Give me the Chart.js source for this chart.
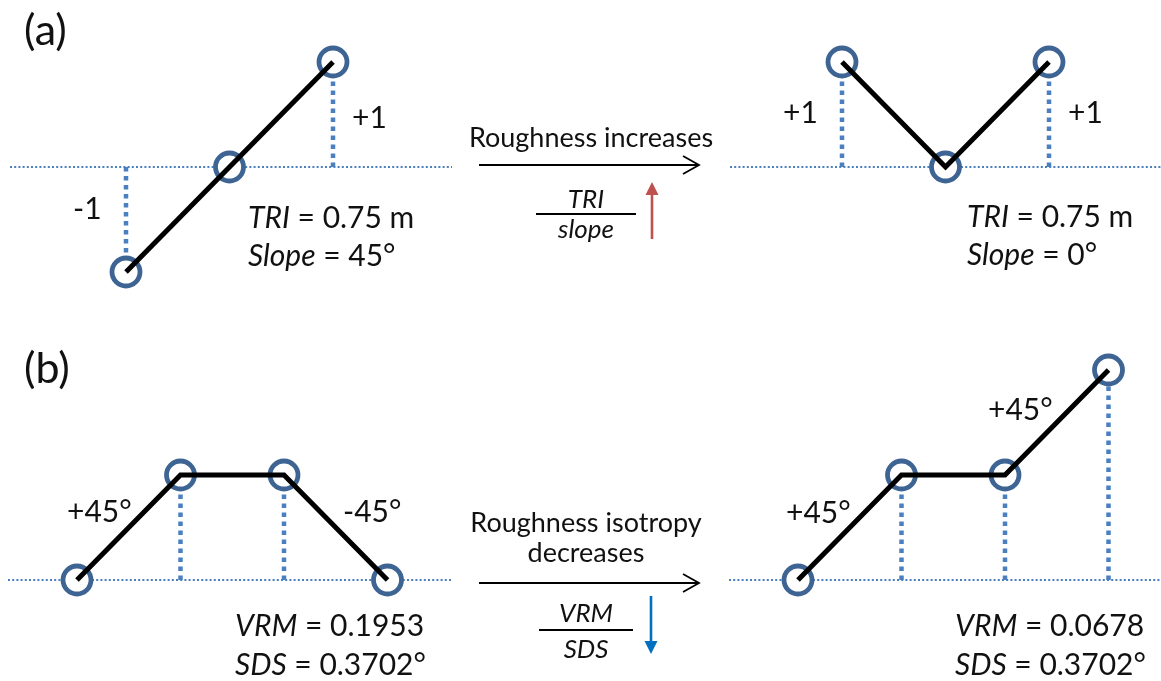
<!DOCTYPE html>
<html>
<head>
<meta charset="utf-8">
<script src="https://cdn.jsdelivr.net/npm/chart.js@4/dist/chart.umd.min.js"></script>
<style>
  html, body { margin: 0; padding: 0; background: #fff; overflow: hidden; }
  #wrap { width: 1161px; height: 681px; position: relative; }
</style>
</head>
<body>
<div id="wrap"><canvas id="c"></canvas></div>
<script>
// Elevation profiles (grid-cell units) before and after each change
const triBefore = [-1, 0, 1];
const triAfter = [1, 0, 1];
const vrmBefore = [0, 1, 1, 0];
const vrmAfter = [0, 1, 1, 2];

// Index values reported under each profile
const triValues = ['0.75 m', '0.75 m'];
const slopeValues = ['45°', '0°'];
const vrmValues = ['0.1953', '0.0678'];
const sdsValues = ['0.3702°', '0.3702°'];

const panelLetters = ['(a)', '(b)'];
const changeTop = ['Roughness increases'];
const changeBottom = ['Roughness isotropy', 'decreases'];

// ---- layout -------------------------------------------------------------
const W = 1161, H = 681;
const XU = 103.5, YU = 105;              // pixels per grid cell
const toX = px => px / XU;
const toY = py => (H - py) / YU;

const FONT = 'Lato, "Open Sans", sans-serif';
const INK = '#111';
const RING = '#3e6493';
const GUIDE = '#4a7fc0';

const panels = [
  { elev: triBefore, ox: 126, oy: 167, base: [10, 452] },
  { elev: triAfter,  ox: 842, oy: 167, base: [730, 1161] },
  { elev: vrmBefore, ox: 77,  oy: 580, base: [8, 452] },
  { elev: vrmAfter,  ox: 798, oy: 580, base: [729, 1161] }
];

const datasets = [];
panels.forEach(p => {
  const x0 = toX(p.ox), y0 = toY(p.oy);
  const pts = p.elev.map((e, i) => ({ x: x0 + i, y: y0 + e }));
  // reference level
  datasets.push({
    type: 'line', showLine: true, order: 4,
    data: [{ x: toX(p.base[0]), y: y0 }, { x: toX(p.base[1]), y: y0 }],
    borderColor: GUIDE, borderWidth: 2, borderDash: [2, 2.2], pointRadius: 0
  });
  // drop lines from the reference level to each raised / lowered cell
  pts.forEach(pt => {
    if (pt.y === y0) return;
    datasets.push({
      type: 'line', showLine: true, order: 3,
      data: [{ x: pt.x, y: y0 }, { x: pt.x, y: pt.y }],
      borderColor: GUIDE, borderWidth: 4.5, borderDash: [4.5, 4.5], pointRadius: 0
    });
  });
  // cell centres
  datasets.push({
    type: 'scatter', order: 2, data: pts,
    pointRadius: 14, pointBorderWidth: 4.8,
    pointBorderColor: RING, pointBackgroundColor: '#fff'
  });
  // surface profile
  datasets.push({
    type: 'line', showLine: true, order: 1, data: pts,
    borderColor: '#000', borderWidth: 5, borderJoinStyle: 'miter',
    pointRadius: 0
  });
});

function fmtElev(e) { return (e > 0 ? '+' : '') + e; }
function fmtAngle(dy) {
  const a = Math.round(Math.atan2(dy, 1) * 180 / Math.PI);
  return (a > 0 ? '+' : '') + a + '°';
}

// text pieces: [string, italic]
function rich(ctx, parts, x, y, size, align) {
  let total = 0;
  const widths = parts.map(([t, it]) => {
    ctx.font = (it ? 'italic ' : '') + size + 'px ' + FONT;
    const w = ctx.measureText(t).width; total += w; return w;
  });
  let cx = align === 'center' ? x - total / 2 : x;
  ctx.textAlign = 'left';
  ctx.textBaseline = 'alphabetic';
  ctx.fillStyle = INK;
  parts.forEach(([t, it], i) => {
    ctx.font = (it ? 'italic ' : '') + size + 'px ' + FONT;
    ctx.fillText(t, cx, y);
    cx += widths[i];
  });
}

function line(ctx, x1, y1, x2, y2, w, c) {
  ctx.beginPath(); ctx.moveTo(x1, y1); ctx.lineTo(x2, y2);
  ctx.lineWidth = w; ctx.strokeStyle = c; ctx.stroke();
}

function changeArrow(ctx, y) {
  line(ctx, 479, y, 698, y, 1.8, '#000');
  ctx.beginPath();
  ctx.moveTo(683, y - 9); ctx.lineTo(699, y); ctx.lineTo(683, y + 9);
  ctx.lineWidth = 1.8; ctx.strokeStyle = '#000'; ctx.stroke();
}

function trendArrow(ctx, x, yTail, yTip, color) {
  const dir = yTip < yTail ? -1 : 1;
  line(ctx, x, yTail, x, yTip - dir * 12, 2.6, color);
  ctx.beginPath();
  ctx.moveTo(x, yTip);
  ctx.lineTo(x - 6.5, yTip - dir * 13);
  ctx.lineTo(x + 6.5, yTip - dir * 13);
  ctx.closePath(); ctx.fillStyle = color; ctx.fill();
}

const annotations = {
  id: 'annotations',
  afterDatasetsDraw(chart) {
    const ctx = chart.ctx;
    ctx.save();

    // panel letters
    rich(ctx, [[panelLetters[0], false]], 24, 45, 43);
    rich(ctx, [[panelLetters[1], false]], 24, 383, 43);

    const S = 30;
    // (a) elevation labels
    rich(ctx, [[fmtElev(triBefore[2]), false]], 352, 128, S);
    rich(ctx, [[fmtElev(triBefore[0]), false]], 73, 219, S);
    rich(ctx, [[fmtElev(triAfter[0]), false]], 783, 123, S);
    rich(ctx, [[fmtElev(triAfter[2]), false]], 1068, 123, S);

    // (a) index values
    rich(ctx, [['TRI', true], [' = ' + triValues[0], false]], 248, 228, S);
    rich(ctx, [['Slope', true], [' = ' + slopeValues[0], false]], 248, 266, S);
    rich(ctx, [['TRI', true], [' = ' + triValues[1], false]], 967, 227, S);
    rich(ctx, [['Slope', true], [' = ' + slopeValues[1], false]], 967, 265, S);

    // (b) slope labels
    rich(ctx, [[fmtAngle(vrmBefore[1] - vrmBefore[0]), false]], 67, 522, S);
    rich(ctx, [[fmtAngle(vrmBefore[3] - vrmBefore[2]), false]], 343, 522, S);
    rich(ctx, [[fmtAngle(vrmAfter[1] - vrmAfter[0]), false]], 786, 523, S);
    rich(ctx, [[fmtAngle(vrmAfter[3] - vrmAfter[2]), false]], 988, 420, S);

    // (b) index values
    rich(ctx, [['VRM', true], [' = ' + vrmValues[0], false]], 235, 636, S);
    rich(ctx, [['SDS', true], [' = ' + sdsValues[0], false]], 235, 675, S);
    rich(ctx, [['VRM', true], [' = ' + vrmValues[1], false]], 955, 636, S);
    rich(ctx, [['SDS', true], [' = ' + sdsValues[1], false]], 955, 675, S);

    // change between profiles (a)
    const M = 27, F = 26;
    rich(ctx, [[changeTop[0], false]], 591, 147, M, 'center');
    changeArrow(ctx, 165);
    rich(ctx, [['TRI', true]], 586, 208, F, 'center');
    line(ctx, 536, 214, 636, 214, 2, '#000');
    rich(ctx, [['slope', true]], 586, 238, F, 'center');
    trendArrow(ctx, 652, 239, 182, '#c0504d');

    // change between profiles (b)
    rich(ctx, [[changeBottom[0], false]], 586, 532, M, 'center');
    rich(ctx, [[changeBottom[1], false]], 586, 562, M, 'center');
    changeArrow(ctx, 583);
    rich(ctx, [['VRM', true]], 586, 622, F, 'center');
    line(ctx, 539, 630, 633, 630, 2, '#000');
    rich(ctx, [['SDS', true]], 586, 658, F, 'center');
    trendArrow(ctx, 651, 596, 654, '#0070c0');

    ctx.restore();
  }
};

new Chart(document.getElementById('c'), {
  type: 'scatter',
  data: { datasets },
  options: {
    responsive: true,
    maintainAspectRatio: false,
    animation: false,
    events: [],
    layout: { padding: 0, autoPadding: false },
    plugins: { legend: { display: false }, tooltip: { enabled: false } },
    scales: {
      x: { type: 'linear', min: 0, max: W / XU, display: false },
      y: { type: 'linear', min: 0, max: H / YU, display: false }
    }
  },
  plugins: [annotations]
});
</script>
</body>
</html>
